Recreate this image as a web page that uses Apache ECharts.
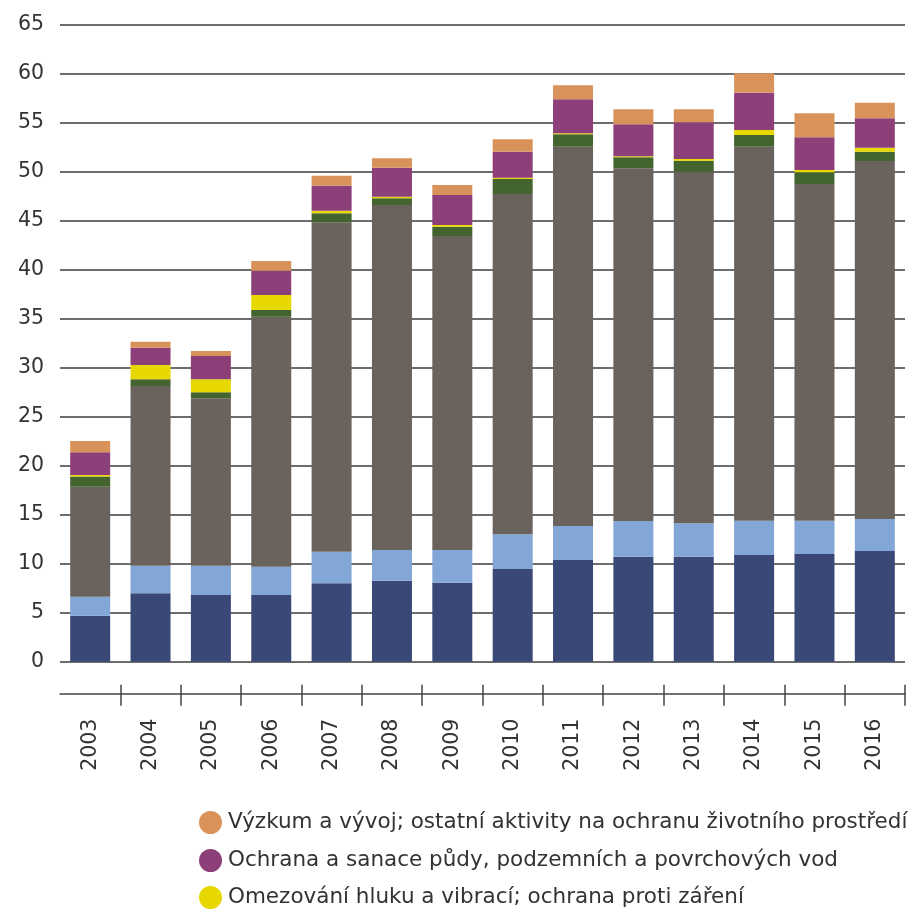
<!DOCTYPE html>
<html><head><meta charset="utf-8">
<script src="https://cdn.jsdelivr.net/npm/echarts@6/dist/echarts.min.js"></script>
<style>html,body{margin:0;padding:0;background:#fff}#c{width:915px;height:910px}</style>
</head><body><div id="c"></div>
<script>
const years = ['2003','2004','2005','2006','2007','2008','2009','2010','2011','2012','2013','2014','2015','2016'];
const yTicks = [0,5,10,15,20,25,30,35,40,45,50,55,60,65];
const sDarkBlue  = [4.70, 6.98, 6.81, 6.80, 8.00, 8.27, 8.07, 9.46,10.38,10.72,10.72,10.89,11.00,11.30];
const sLightBlue = [1.94, 2.82, 2.99, 2.90, 3.23, 3.13, 3.33, 3.54, 3.47, 3.64, 3.41, 3.51, 3.40, 3.27];
const sGray      = [11.23,18.35,17.10,25.52,33.63,35.23,32.06,34.75,38.73,36.01,35.90,38.18,34.37,36.55];
const sGreen     = [1.03, 0.68, 0.60, 0.68, 0.92, 0.68, 0.95, 1.53, 1.26, 1.12, 1.12, 1.19, 1.19, 0.95];
const sYellow    = [0.15, 1.47, 1.33, 1.54, 0.26, 0.16, 0.17, 0.13, 0.10, 0.10, 0.17, 0.51, 0.24, 0.41];
const sPurple    = [2.33, 1.76, 2.37, 2.48, 2.56, 2.96, 3.07, 2.66, 3.48, 3.27, 3.75, 3.81, 3.34, 3.00];
const sOrange    = [1.15, 0.61, 0.52, 0.99, 1.02, 0.96, 1.02, 1.26, 1.43, 1.54, 1.33, 1.98, 2.45, 1.59];

const nOrange = 'Výzkum a vývoj; ostatní aktivity na ochranu životního prostředí';
const nPurple = 'Ochrana a sanace půdy, podzemních a povrchových vod';
const nYellow = 'Omezování hluku a vibrací; ochrana proti záření';

const chart = echarts.init(document.getElementById('c'));
function bar(name, data, color){
  return {name, type:'bar', stack:'a', data, barWidth:40, itemStyle:{color}, xAxisIndex:0, yAxisIndex:0};
}
function leg(name, top){
  return {
    data:[name], orient:'horizontal', left:199, top, padding:0, itemGap:0,
    icon:'circle', itemWidth:23, itemHeight:23,
    textStyle:{fontFamily:'DejaVu Sans', fontSize:21.5, color:'#333', padding:[0,0,0,1]},
    selectedMode:false
  };
}
const gridBox = {left:60, right:10, top:25, bottom:248.3};
chart.setOption({
  animation:false,
  textStyle:{fontFamily:'DejaVu Sans'},
  grid:[Object.assign({}, gridBox), Object.assign({}, gridBox)],
  legend:[leg(nOrange, 811), leg(nPurple, 849), leg(nYellow, 886)],
  xAxis:[{
    type:'category', data:years, position:'bottom', offset:32, gridIndex:0,
    axisLine:{onZero:false, lineStyle:{color:'#444', width:1.5}},
    axisTick:{show:true, length:12, interval:(i)=> i>0, lineStyle:{color:'#444', width:1.5}},
    axisLabel:{rotate:90, margin:25, fontSize:20.5, color:'#333', fontFamily:'DejaVu Sans'}
  },{
    type:'category', data:years, position:'bottom', offset:23, gridIndex:1,
    axisLine:{show:true, onZero:false, lineStyle:{color:'#444', opacity:0}},
    axisTick:{show:true, length:9, interval:(i)=> i>0, lineStyle:{color:'#444', width:1.5, opacity:1}},
    axisLabel:{show:false}
  }],
  yAxis:[{
    type:'value', min:0, max:65, interval:5, gridIndex:0,
    axisLine:{show:false}, axisTick:{show:false},
    axisLabel:{fontSize:20.5, color:'#333', margin:16, fontFamily:'DejaVu Sans',
      formatter:v=> yTicks.includes(v) ? String(v) : ''},
    splitLine:{lineStyle:{color:'#3c3c3c', width:1.5}}
  },{
    type:'value', min:0, max:65, interval:5, gridIndex:1,
    axisLine:{show:false}, axisTick:{show:false}, axisLabel:{show:false}, splitLine:{show:false}
  }],
  series:[
    bar('Dark', sDarkBlue, '#3a4878'),
    bar('Light', sLightBlue, '#82a6d6'),
    bar('Gray', sGray, '#6a625c'),
    bar('Green', sGreen, '#43632f'),
    bar(nYellow, sYellow, '#e6d800'),
    bar(nPurple, sPurple, '#8d3f7a'),
    bar(nOrange, sOrange, '#d9935a')
  ]
});
</script></body></html>
